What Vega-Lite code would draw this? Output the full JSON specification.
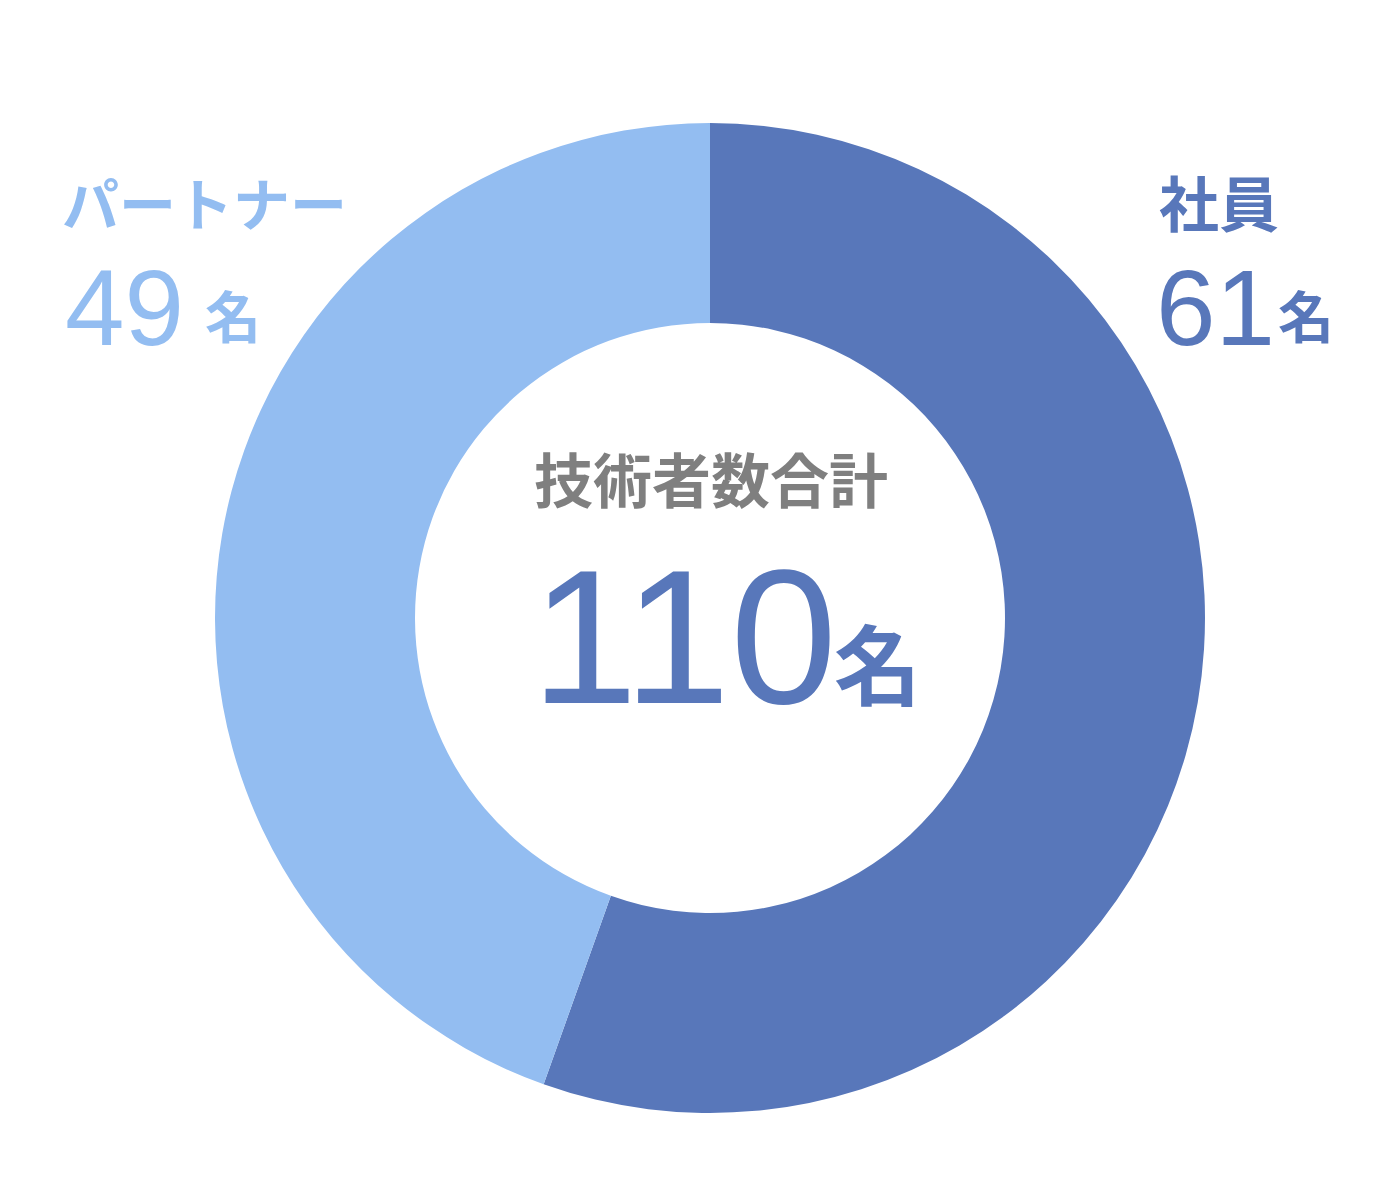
{
  "$schema": "https://vega.github.io/schema/vega-lite/v6.json",
  "width": 1400,
  "height": 1200,
  "autosize": {"type": "fit", "contains": "padding"},
  "padding": {"left": 20, "top": 36, "right": 0, "bottom": 0},
  "background": "white",
  "view": {"stroke": null},
  "data": {
    "values": [
      {"category": "社員", "count": 61},
      {"category": "パートナー", "count": 49}
    ]
  },
  "layer": [
    {
      "mark": {"type": "arc", "radius": 495, "innerRadius": 295},
      "encoding": {
        "theta": {"field": "count", "type": "quantitative", "stack": true},
        "order": {"field": "count", "type": "quantitative", "sort": "descending"},
        "color": {
          "field": "category",
          "type": "nominal",
          "scale": {"domain": ["社員", "パートナー"], "range": ["#5877BA", "#93BDF1"]},
          "legend": null
        }
      }
    },
    {
      "transform": [{"filter": "datum.category == 'パートナー'"}],
      "mark": {"type": "text", "align": "left", "baseline": "middle", "dx": -648, "dy": -409, "font": "Noto Sans CJK JP", "fontWeight": "bold", "fontSize": 57},
      "encoding": {
        "text": {"field": "category"},
        "color": {"field": "category", "type": "nominal"}
      }
    },
    {
      "transform": [{"filter": "datum.category == 'パートナー'"}],
      "mark": {"type": "text", "align": "left", "baseline": "alphabetic", "dx": -645, "dy": -273, "font": "Liberation Sans", "fontSize": 107},
      "encoding": {
        "text": {"field": "count", "type": "quantitative"},
        "color": {"field": "category", "type": "nominal"}
      }
    },
    {
      "transform": [{"filter": "datum.category == 'パートナー'"}],
      "mark": {"type": "text", "align": "left", "baseline": "alphabetic", "dx": -505, "dy": -280, "font": "Noto Sans CJK JP", "fontWeight": "bold", "fontSize": 56, "text": "名"},
      "encoding": {
        "color": {"field": "category", "type": "nominal"}
      }
    },
    {
      "transform": [{"filter": "datum.category == '社員'"}],
      "mark": {"type": "text", "align": "left", "baseline": "middle", "dx": 449, "dy": -409, "font": "Noto Sans CJK JP", "fontWeight": "bold", "fontSize": 60},
      "encoding": {
        "text": {"field": "category"},
        "color": {"field": "category", "type": "nominal"}
      }
    },
    {
      "transform": [{"filter": "datum.category == '社員'"}],
      "mark": {"type": "text", "align": "left", "baseline": "alphabetic", "dx": 446, "dy": -273, "font": "Liberation Sans", "fontSize": 107},
      "encoding": {
        "text": {"field": "count", "type": "quantitative"},
        "color": {"field": "category", "type": "nominal"}
      }
    },
    {
      "transform": [{"filter": "datum.category == '社員'"}],
      "mark": {"type": "text", "align": "left", "baseline": "alphabetic", "dx": 568, "dy": -280, "font": "Noto Sans CJK JP", "fontWeight": "bold", "fontSize": 56, "text": "名"},
      "encoding": {
        "color": {"field": "category", "type": "nominal"}
      }
    },
    {
      "transform": [{"aggregate": [{"op": "sum", "field": "count", "as": "total"}]}],
      "mark": {"type": "text", "align": "center", "baseline": "middle", "dx": 1, "dy": -133, "font": "Noto Sans CJK JP", "fontWeight": "bold", "fontSize": 59, "color": "#7F7F7F", "text": "技術者数合計"},
      "encoding": {}
    },
    {
      "transform": [{"aggregate": [{"op": "sum", "field": "count", "as": "total"}]}],
      "mark": {"type": "text", "align": "right", "baseline": "alphabetic", "dx": 127, "dy": 85, "font": "Liberation Sans", "fontSize": 192, "color": "#5877BA"},
      "encoding": {
        "text": {"field": "total", "type": "quantitative"}
      }
    },
    {
      "transform": [{"aggregate": [{"op": "sum", "field": "count", "as": "total"}]}],
      "mark": {"type": "text", "align": "left", "baseline": "alphabetic", "dx": 124, "dy": 81, "font": "Noto Sans CJK JP", "fontWeight": "bold", "fontSize": 87, "color": "#5877BA", "text": "名"},
      "encoding": {}
    }
  ]
}
